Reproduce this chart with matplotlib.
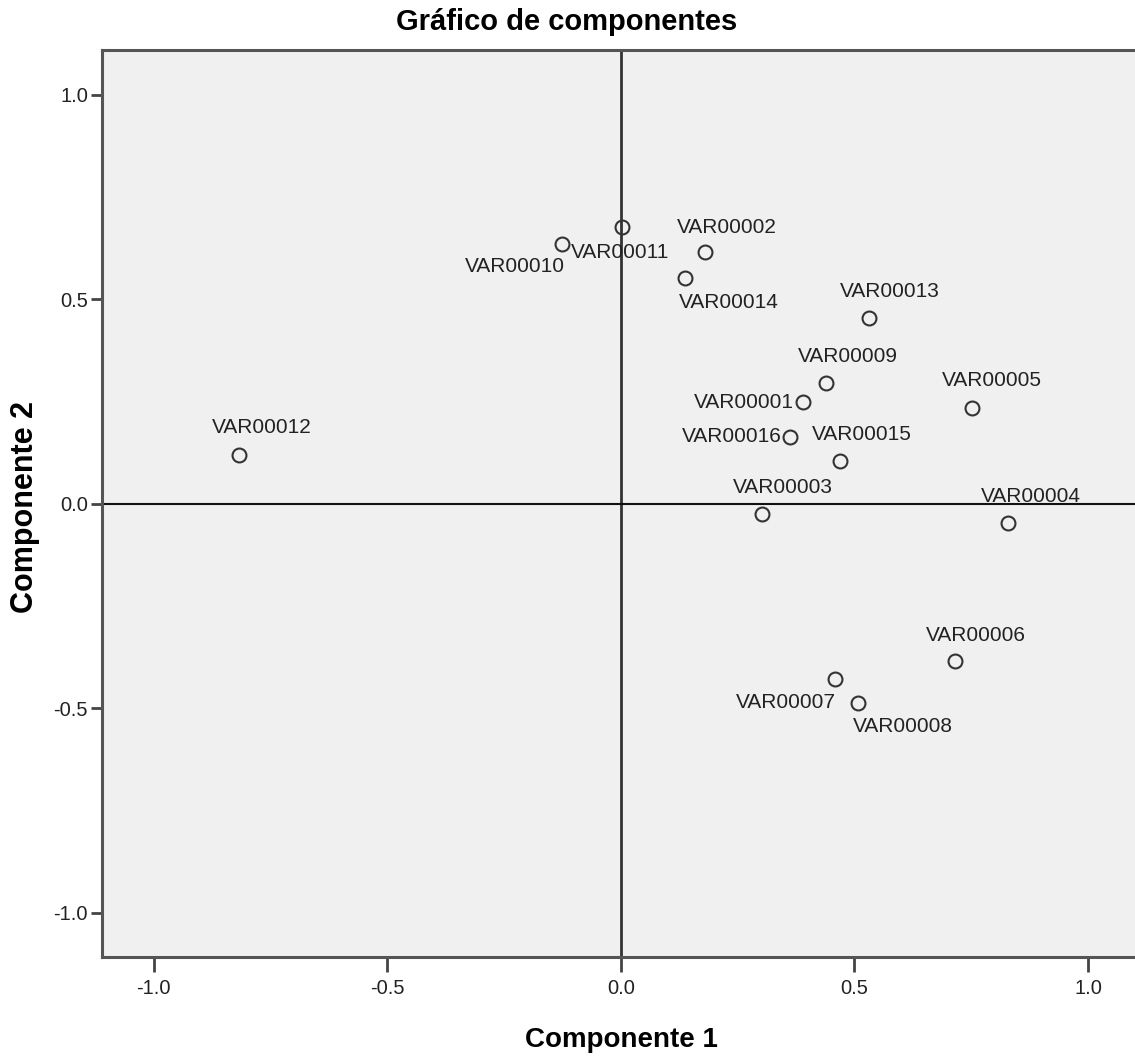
"""
Gráfico de componentes (component plot, SPSS style)
"""

import matplotlib.pyplot as plt

plt.rcParams['font.family'] = ['Liberation Sans', 'DejaVu Sans']

# loadings
labels = ['VAR00011', 'VAR00010', 'VAR00002', 'VAR00014', 'VAR00013', 'VAR00009',
          'VAR00001', 'VAR00016', 'VAR00015', 'VAR00005', 'VAR00012', 'VAR00003',
          'VAR00004', 'VAR00006', 'VAR00007', 'VAR00008']
comp1 = [0.002, -0.126, 0.180, 0.137, 0.531, 0.439, 0.390, 0.362, 0.468, 0.752,
         -0.818, 0.302, 0.829, 0.715, 0.458, 0.507]
comp2 = [0.677, 0.636, 0.616, 0.553, 0.455, 0.296, 0.249, 0.164, 0.105, 0.235,
         0.120, -0.024, -0.046, -0.384, -0.428, -0.487]
ticks = [-1.0, -0.5, 0.0, 0.5, 1.0]

# label placement (pixels, relative to the point)
offsets = {
    'VAR00011': (-2, -25), 'VAR00010': (-47, -23), 'VAR00002': (22, 25),
    'VAR00014': (44, -25), 'VAR00013': (21, 26), 'VAR00009': (22, 26),
    'VAR00001': (-59, 0), 'VAR00016': (-58, 0), 'VAR00015': (22, 27),
    'VAR00005': (20, 27), 'VAR00012': (23, 27), 'VAR00003': (21, 26),
    'VAR00004': (23, 26), 'VAR00006': (21, 26), 'VAR00007': (-49, -23),
    'VAR00008': (45, -23),
}

W, H = 1135, 1061
fig = plt.figure(figsize=(W / 100, H / 100), dpi=100)
ax = fig.add_axes([102 / W, 1 - 957 / H, 1 - 102 / W, (957 - 50) / H])
ax.set_facecolor('#F0F0F0')
ax.set_xlim(-1.111, 1.1006)
ax.set_ylim(-1.1076, 1.11)

ax.axvline(0, color='#333333', lw=2, zorder=1)
ax.axhline(0, color='#111111', lw=1.5, zorder=1)

ax.plot(comp1, comp2, 'o', ms=10, mfc='none', mec='#333333', mew=1.5, zorder=3)
for lab, x, y in zip(labels, comp1, comp2):
    dx, dy = offsets[lab]
    ax.annotate(lab, (x, y), xytext=(dx, dy), textcoords='offset pixels',
                ha='center', va='center', fontsize=15, color='#222222', zorder=4)

ax.set_xticks(ticks)
ax.set_yticks(ticks)
ax.set_xticklabels([f'{t:.1f}' for t in ticks])
ax.set_yticklabels([f'{t:.1f}' for t in ticks])
ax.tick_params(axis='x', length=11, width=2, color='#444444', pad=5,
               labelsize=14.5, labelcolor='#222222')
ax.tick_params(axis='y', length=8, width=2, color='#444444', pad=2,
               labelsize=14.5, labelcolor='#222222')

for side in ['left', 'bottom', 'top']:
    ax.spines[side].set_color('#555555')
    ax.spines[side].set_linewidth(2.2)
ax.spines['right'].set_visible(False)

fig.text(567 / W, 1 - 22 / H, 'Gráfico de componentes', ha='center', va='center',
         fontsize=21, fontweight='bold')
fig.text(621 / W, 1 - 1040 / H, 'Componente 1', ha='center', va='center',
         fontsize=20, fontweight='bold')
fig.text(25 / W, 1 - 507 / H, 'Componente 2', ha='center', va='center',
         fontsize=22, fontweight='bold', rotation=90)

plt.savefig('out.png', dpi=100, facecolor='white')
plt.close()
